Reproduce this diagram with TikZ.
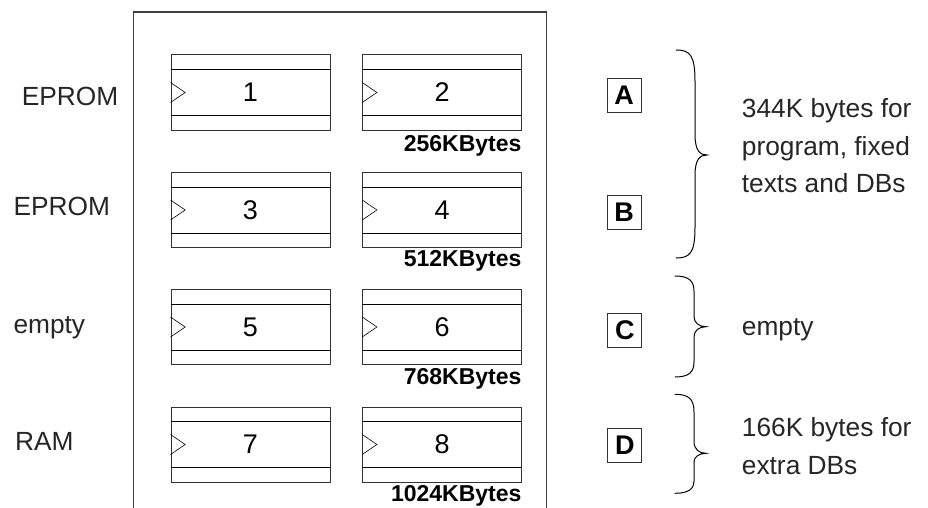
\documentclass[tikz,border=0pt]{standalone}
\usepackage{fontspec}
\setmainfont{Liberation Sans}
\colorlet{txt}{black!85}
\newcommand\curlybrace[4]{%
  \pgfmathsetmacro\ua{#2+0.3*(#3-#2)}%
  \pgfmathsetmacro\ub{#3-0.2*(#3-#2)}%
  \pgfmathsetmacro\la{#3+0.2*(#4-#3)}%
  \pgfmathsetmacro\lb{#4-0.3*(#4-#3)}%
  \draw[braceline] (#1,#2) .. controls (#1+14,#2) and (#1+19,#2+5) .. (#1+19,\ua)
    -- (#1+19,\ub) .. controls (#1+19,#3-4) and (#1+24,#3) .. (#1+31,#3)
    .. controls (#1+24,#3) and (#1+19,#3+4) .. (#1+19,\la)
    -- (#1+19,\lb) .. controls (#1+19,#4-5) and (#1+14,#4) .. (#1,#4);
}
\begin{document}
\begin{tikzpicture}[x=1pt,y=-1pt,
  chipbox/.style={draw=black!80,line width=1pt,minimum width=159pt,minimum height=75pt,inner sep=0pt,
    font=\fontsize{27}{30}\selectfont},
  strip/.style={draw=black,line width=0.9pt},
  clk/.style={draw=black,line width=0.6pt},
  lbl/.style={anchor=base west,inner sep=0pt,text=txt,font=\fontsize{26.3}{30}\selectfont},
  kb/.style={anchor=base east,inner sep=0pt,font=\bfseries\fontsize{23}{26}\selectfont},
  letterbox/.style={draw=black!80,line width=0.9pt,minimum size=34pt,inner sep=0pt,
    font=\bfseries\fontsize{27}{30}\selectfont},
  braceline/.style={draw=black,line width=1pt,line cap=round}]
\useasboundingbox (0,0) rectangle (928,508);
\fill[white] (0,0) rectangle (928,508);
% board outline, open at the bottom
\draw[black!75,line width=1.1pt] (133.3,508) -- (133.3,12) -- (546.7,12) -- (546.7,508);
% chips
\foreach \n/\x/\y in {1/250.5/92.5, 2/442.2/92.5, 3/250.5/210, 4/442.2/210,
                      5/250.5/327, 6/442.2/327, 7/250.5/444.5, 8/442.2/444.5}{
  \node[chipbox] (c\n) at (\x,\y) {\n};
  \draw[strip] ([yshift=-15pt]c\n.north west) -- ([yshift=-15pt]c\n.north east);
  \draw[strip] ([yshift=15pt]c\n.south west) -- ([yshift=15pt]c\n.south east);
  \draw[clk] ([yshift=10pt]c\n.west) -- ([xshift=14.7pt]c\n.west) -- ([yshift=-10pt]c\n.west);
}
% sizes
\node[kb] (k1) at (521.7,151.7) {256KBytes};
\node[kb] (k2) at (521.7,266.7) {512KBytes};
\node[kb] (k3) at (521.7,384) {768KBytes};
\node[kb] (k4) at (521.7,501) {1024KBytes};
% left labels
\node[lbl] (l1) at (21.7,105.7) {EPROM};
\node[lbl] (l2) at (13.3,215) {EPROM};
\node[lbl] (l3) at (13.3,333) {empty};
\node[lbl] (l4) at (15,450) {RAM};
% letter boxes
\node[letterbox] (bA) at (624.2,95.5) {A};
\node[letterbox] (bB) at (624.2,212.7) {B};
\node[letterbox] (bC) at (624.8,330.3) {C};
\node[letterbox] (bD) at (624.8,445.3) {D};
% braces
\curlybrace{676}{50}{155}{258}
\curlybrace{675}{276}{326.7}{377}
\curlybrace{675}{394.3}{453.3}{493.3}
% right texts
\node[lbl] (r1) at (741.7,117.7) {344K bytes for};
\node[lbl] (r2) at (741.7,155) {program, fixed};
\node[lbl] (r3) at (741.7,192.7) {texts and DBs};
\node[lbl] (r4) at (741.7,335) {empty};
\node[lbl] (r5) at (741.7,436.7) {166K bytes for};
\node[lbl] (r6) at (741.7,474.3) {extra DBs};
\end{tikzpicture}
\end{document}
